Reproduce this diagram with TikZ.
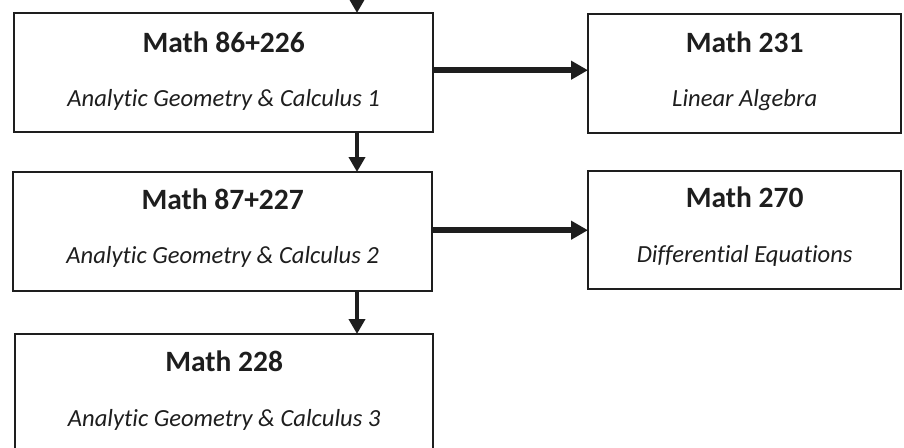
\documentclass[tikz,border=0pt]{standalone}
\usepackage{fontspec}
\setmainfont{Carlito}[RawFeature={-liga;-dlig;-clig}]
\usetikzlibrary{calc,arrows.meta}
\definecolor{ink}{HTML}{1E1E1E}
\tikzset{
  box/.style={draw=ink, line width=2.4pt, fill=white, rectangle, inner sep=0pt, anchor=north west},
  ttl/.style={anchor=base, text=ink, font=\fontsize{29.5}{32}\selectfont\bfseries, inner sep=0pt},
  sub/.style={anchor=base, text=ink, font=\fontsize{24.6}{28}\selectfont\itshape, inner sep=0pt},
  varrow/.style={draw=ink, line width=4.2pt, -{Triangle[length=15pt,width=16pt]}, shorten >=-1pt},
  harrow/.style={draw=ink, line width=5.5pt, -{Triangle[length=17pt,width=18pt]}, shorten >=-1pt}
}
\begin{document}
\begin{tikzpicture}[x=1pt,y=-1pt]
\useasboundingbox (0,0) rectangle (904,447);
% boxes
\node[box, minimum width=419pt, minimum height=119pt] (b1) at (13,12) {};
\node[box, minimum width=313pt, minimum height=119pt] (b231) at (587,13) {};
\node[box, minimum width=419pt, minimum height=119pt] (b2) at (12,171) {};
\node[box, minimum width=313pt, minimum height=118pt] (b270) at (587,170) {};
\node[box, minimum width=418pt, minimum height=125pt] (b3) at (14,333) {};
% texts
\node[ttl] (t1) at ($(b1.north)+(0,40)$) {Math 86+226};
\node[sub] (s1) at ($(b1.north)+(0,94)$) {Analytic Geometry \& Calculus 1};
\node[ttl] (t231) at ($(b231.north)+(0,39)$) {Math 231};
\node[sub] (s231) at ($(b231.north)+(0,93)$) {Linear Algebra};
\node[ttl] (t2) at ($(b2.north)+(0,38)$) {Math 87+227};
\node[sub] (s2) at ($(b2.north)+(0,92)$) {Analytic Geometry \& Calculus 2};
\node[ttl] (t270) at ($(b270.north)+(0,37)$) {Math 270};
\node[sub] (s270) at ($(b270.north)+(0,92)$) {Differential Equations};
\node[ttl] (t3) at ($(b3.north)+(0,38)$) {Math 228};
\node[sub] (s3) at ($(b3.north)+(0,93)$) {Analytic Geometry \& Calculus 3};
% connectors
\coordinate (top) at (357,-2);
\draw[varrow] (top) -- (top |- b1.north);
\draw[varrow] (b1.south -| top) -- (b2.north -| top);
\draw[varrow] (b2.south -| top) -- (b3.north -| top);
\draw[harrow] ([yshift=2.5pt]b1.east) -- ([yshift=3.5pt]b231.west);
\draw[harrow] ([yshift=1.5pt]b2.east) -- (b270.west);
\end{tikzpicture}
\end{document}
